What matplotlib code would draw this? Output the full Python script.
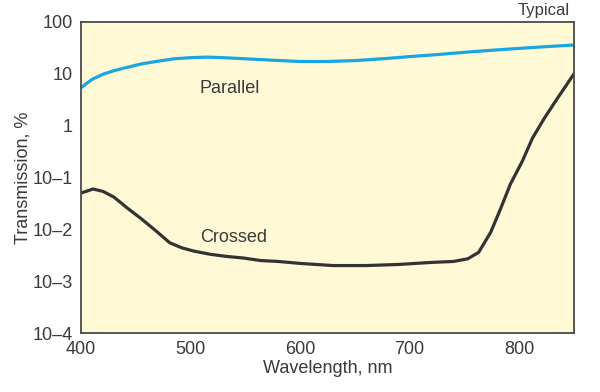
import matplotlib.pyplot as plt
from matplotlib.ticker import FixedLocator, FixedFormatter

plt.rcParams['font.family'] = ['Liberation Sans', 'DejaVu Sans']

# Parallel polarizers
wl_parallel = [400, 410, 420, 430, 440, 455, 470, 485, 500, 515, 530, 550, 575, 600, 625,
               650, 675, 700, 725, 750, 775, 800, 825, 850]
t_parallel = [5.4, 7.8, 9.8, 11.5, 13.0, 15.5, 17.5, 19.5, 20.5, 21.0, 20.5, 19.5, 18.3, 17.3, 17.3,
              18.0, 19.5, 21.5, 23.5, 26.0, 28.5, 31.0, 33.5, 36.0]

# Crossed polarizers
wl_crossed = [400, 411, 420, 430, 442, 455, 468, 481, 492, 503, 518, 533, 548, 564, 580, 600,
              630, 660, 690, 720, 740, 753, 763, 774, 783, 792, 803, 812, 823, 835, 850]
t_crossed = [0.050, 0.060, 0.054, 0.042, 0.026, 0.016, 0.0095, 0.0055, 0.0044, 0.0038, 0.0033,
             0.0030, 0.0028, 0.0025, 0.0024, 0.0022, 0.0020, 0.0020, 0.0021, 0.0023, 0.0024,
             0.0027, 0.0036, 0.0088, 0.025, 0.075, 0.21, 0.57, 1.4, 3.4, 10.0]

y_ticks = [1e-4, 1e-3, 1e-2, 1e-1, 1, 10, 100]
y_labels = ['10\u20134', '10\u20133', '10\u20132', '10\u20131', '1', '10', '100']
x_ticks = [400, 500, 600, 700, 800]

text_color = '#3a3a3a'

fig = plt.figure(figsize=(6, 3.92), dpi=100)
ax = fig.add_axes([81 / 600, 1 - 333 / 392, (574 - 81) / 600, (333 - 22) / 392])
ax.set_facecolor('#fff9d6')

ax.plot(wl_parallel, t_parallel, color='#1aa6e2', lw=2.3, solid_capstyle='butt')
ax.plot(wl_crossed, t_crossed, color='#333333', lw=2.3, solid_joinstyle='round')

ax.set_yscale('log')
ax.set_xlim(400, 850)
ax.set_ylim(1e-4, 100)
ax.yaxis.set_major_locator(FixedLocator(y_ticks))
ax.yaxis.set_major_formatter(FixedFormatter(y_labels))
ax.yaxis.set_minor_locator(FixedLocator([]))
ax.set_xticks(x_ticks)
ax.tick_params(axis='both', length=0, labelsize=13, labelcolor=text_color)
ax.tick_params(axis='y', pad=6)
ax.tick_params(axis='x', pad=6)

for spine in ax.spines.values():
    spine.set_color('#4a4a4a')
    spine.set_linewidth(1.3)

ax.set_xlabel('Wavelength, nm', fontsize=13, color=text_color, labelpad=1)
ax.set_ylabel('Transmission, %', fontsize=13, color=text_color, labelpad=1)

ax.text(536, 5.2, 'Parallel', fontsize=13, color=text_color, ha='center', va='center')
ax.text(539, 0.0071, 'Crossed', fontsize=13, color=text_color, ha='center', va='center')
fig.text(570 / 600, 1 - 10 / 392, 'Typical', fontsize=12, color=text_color, ha='right', va='center')

plt.savefig('out.png', dpi=100)
plt.close(fig)
